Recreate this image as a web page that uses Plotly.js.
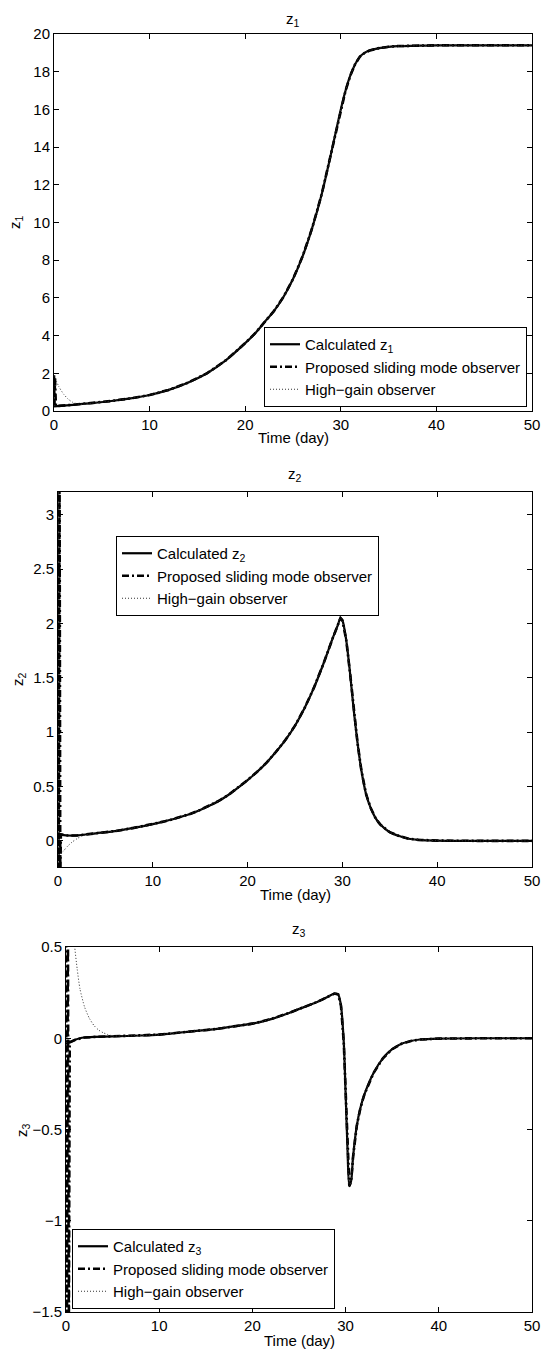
<!DOCTYPE html>
<html>
<head>
<meta charset="utf-8">
<script src="https://cdn.plot.ly/plotly-3.0.1.min.js"></script>
<style>
html,body{margin:0;padding:0;background:#fff;}
#chart{width:542px;height:1352px;}
</style>
</head>
<body>
<div id="chart"></div>
<script>
// ---------- DATA ----------
const xTicks = [0, 10, 20, 30, 40, 50];

// Panel 1 : z1
const t1 = [0, 2, 4, 6, 8, 10, 12, 14, 16, 18, 20, 21, 22, 23, 24, 25, 26, 27, 28, 29, 30, 30.5, 31, 31.5, 32, 32.5, 33, 34, 35, 36, 38, 40, 45, 50];
const z1Calc = [0.25, 0.33, 0.42, 0.53, 0.67, 0.85, 1.12, 1.5, 2.0, 2.7, 3.6, 4.1, 4.7, 5.3, 6.05, 7.0, 8.2, 9.7, 11.5, 13.7, 16.0, 17.0, 17.8, 18.4, 18.8, 19.0, 19.12, 19.25, 19.32, 19.36, 19.38, 19.4, 19.4, 19.4];
const smoT1 = [0, 0.05, 0.1, 0.15, 0.2];
const smoZ1 = [1.9, 0.3, 1.8, 0.3, 0.26];
const hgT1 = [0, 0.5, 1, 1.5, 2, 2.5, 3];
const hgZ1 = [1.9, 1.3, 0.9, 0.62, 0.45, 0.37, 0.35];
const y1Ticks = [0, 2, 4, 6, 8, 10, 12, 14, 16, 18, 20];

// Panel 2 : z2
const t2 = [0, 1, 2, 4, 6, 8, 10, 11, 12, 13, 14, 15, 16, 17, 18, 19, 20, 21, 22, 23, 24, 25, 26, 27, 28, 29, 29.5, 29.8, 30, 30.4, 30.8, 31.2, 31.6, 32, 32.5, 33, 33.5, 34, 35, 36, 37, 38, 40, 45, 50];
const z2Calc = [0.06, 0.05, 0.05, 0.07, 0.09, 0.12, 0.155, 0.175, 0.197, 0.222, 0.25, 0.285, 0.325, 0.37, 0.425, 0.49, 0.56, 0.635, 0.72, 0.82, 0.93, 1.06, 1.22, 1.41, 1.63, 1.87, 1.98, 2.05, 2.03, 1.85, 1.55, 1.2, 0.9, 0.65, 0.43, 0.3, 0.21, 0.15, 0.08, 0.045, 0.02, 0.01, 0.003, 0, 0];
const smoT2 = [0, 0.08, 0.16, 0.24, 0.3];
const smoZ2 = [3.6, -0.4, 3.6, -0.4, 0.06];
const hgT2 = [0.3, 0.6, 1, 1.5, 2, 2.5, 3];
const hgZ2 = [-0.12, -0.09, -0.05, -0.01, 0.02, 0.045, 0.055];
const y2Ticks = [0, 0.5, 1, 1.5, 2, 2.5, 3];

// Panel 3 : z3
const t3 = [0, 0.5, 1, 1.5, 2, 3, 5, 8, 10, 12, 14, 16, 18, 20, 22, 24, 26, 27, 28, 28.8, 29.2, 29.5, 29.8, 30, 30.2, 30.4, 30.6, 30.8, 31.2, 31.6, 32, 33, 34, 35, 36, 37, 38, 40, 45, 50];
const z3Calc = [-0.03, -0.02, -0.008, 0, 0.004, 0.007, 0.01, 0.015, 0.02, 0.03, 0.04, 0.05, 0.065, 0.08, 0.105, 0.14, 0.18, 0.2, 0.225, 0.245, 0.24, 0.18, -0.02, -0.3, -0.6, -0.81, -0.78, -0.65, -0.48, -0.38, -0.31, -0.19, -0.11, -0.06, -0.03, -0.015, -0.007, -0.002, 0, 0];
const smoT3 = [0, 0.1, 0.2, 0.3, 0.4];
const smoZ3 = [0.7, -1.7, 0.7, -1.7, -0.02];
const hgT3 = [0.5, 0.9, 1.2, 1.5, 2, 2.5, 3, 3.5, 4, 4.5, 5];
const hgZ3 = [0.9, 0.52, 0.38, 0.27, 0.17, 0.11, 0.07, 0.045, 0.03, 0.02, 0.013];
const y3Ticks = [-1.5, -1, -0.5, 0, 0.5];

const names = {
  smo: 'Proposed sliding mode observer',
  hg: 'High\u2212gain observer'
};

// ---------- HELPERS ----------
const W = 542, H = 1352;
const fx = p => p / W;
const fy = p => 1 - p / H;
const FONT = 'Liberation Sans, Arial, Helvetica, sans-serif';
const FS = 15;

function tail(tArr, zArr, after) {
  const xs = [], ys = [];
  tArr.forEach((t, i) => { if (t > after) { xs.push(t); ys.push(zArr[i]); } });
  return [xs, ys];
}

function panelTraces(idx, tC, zC, sT, sZ, hT, hZ, calcName) {
  const ax = idx === 1 ? '' : String(idx);
  const leg = idx === 1 ? 'legend' : 'legend' + idx;
  const [sTx, sTy] = tail(tC, zC, sT[sT.length - 1]);
  const [hTx, hTy] = tail(tC, zC, hT[hT.length - 1]);
  return [
    {x: tC, y: zC, name: calcName, type: 'scatter', mode: 'lines',
     line: {color: '#000', width: 2.2, shape: 'spline', smoothing: 0.8},
     xaxis: 'x' + ax, yaxis: 'y' + ax, legend: leg},
    {x: sT.concat(sTx), y: sZ.concat(sTy), name: names.smo, type: 'scatter', mode: 'lines',
     line: {color: '#000', width: 2.6, dash: '7px,3px,2px,3px'},
     xaxis: 'x' + ax, yaxis: 'y' + ax, legend: leg},
    {x: hT.concat(hTx), y: hZ.concat(hTy), name: names.hg, type: 'scatter', mode: 'lines',
     line: {color: '#333', width: 1, dash: '1px,2px', shape: 'spline', smoothing: 0.6},
     xaxis: 'x' + ax, yaxis: 'y' + ax, legend: leg}
  ];
}

const traces = []
  .concat(panelTraces(1, t1, z1Calc, smoT1, smoZ1, hgT1, hgZ1, 'Calculated z<sub>1</sub>'))
  .concat(panelTraces(2, t2, z2Calc, smoT2, smoZ2, hgT2, hgZ2, 'Calculated z<sub>2</sub>'))
  .concat(panelTraces(3, t3, z3Calc, smoT3, smoZ3, hgT3, hgZ3, 'Calculated z<sub>3</sub>'));

function xAxis(anchor, left) {
  return {
    domain: [fx(left), fx(532)], anchor: anchor, range: [0, 50],
    tickvals: xTicks, ticks: 'inside', ticklen: 5, tickcolor: '#000', tickwidth: 1,
    showline: true, linecolor: '#000', linewidth: 1, mirror: 'ticks',
    showgrid: false, zeroline: false, automargin: false,
    tickfont: {family: FONT, size: FS, color: '#000'}
  };
}
function yAxis(anchor, top, bottom, range, tv) {
  return {
    domain: [fy(bottom), fy(top)], anchor: anchor, range: range,
    tickvals: tv, ticks: 'inside', ticklen: 5, tickcolor: '#000', tickwidth: 1,
    showline: true, linecolor: '#000', linewidth: 1, mirror: 'ticks',
    showgrid: false, zeroline: false, automargin: false,
    tickfont: {family: FONT, size: FS, color: '#000'}
  };
}

function legendBox(x, y, xa, ya) {
  return {
    x: x, y: y, xanchor: xa, yanchor: ya, xref: 'paper', yref: 'paper',
    bgcolor: '#fff', bordercolor: '#000', borderwidth: 1,
    font: {family: FONT, size: FS, color: '#000'},
    itemwidth: 30, tracegroupgap: 0, traceorder: 'normal'
  };
}

function txt(text, x, y, angle) {
  return {text: text, x: fx(x), y: fy(y), xref: 'paper', yref: 'paper',
    showarrow: false, xanchor: 'center', yanchor: 'middle', textangle: angle || 0,
    font: {family: FONT, size: FS, color: '#000'}};
}

const layout = {
  width: W, height: H,
  margin: {l: 0, r: 0, t: 0, b: 0},
  paper_bgcolor: '#fff', plot_bgcolor: '#fff',
  showlegend: true,
  xaxis: xAxis('y', 54),
  yaxis: yAxis('x', 34, 411, [0, 20], y1Ticks),
  xaxis2: xAxis('y2', 58),
  yaxis2: yAxis('x2', 492, 867, [-0.24, 3.21], y2Ticks),
  xaxis3: xAxis('y3', 66),
  yaxis3: yAxis('x3', 947, 1312, [-1.5, 0.5], y3Ticks),
  legend: legendBox(fx(527), fy(407), 'right', 'bottom'),
  legend2: legendBox(fx(116), fy(536), 'left', 'top'),
  legend3: legendBox(fx(72), fy(1309), 'left', 'bottom'),
  annotations: [
    txt('z<sub>1</sub>', 293, 19),
    txt('z<sub>2</sub>', 295, 474),
    txt('z<sub>3</sub>', 299, 929),
    txt('Time (day)', 293, 437),
    txt('Time (day)', 295, 894),
    txt('Time (day)', 299, 1340),
    txt('z<sub>1</sub>', 15, 222, -90),
    txt('z<sub>2</sub>', 18, 679, -90),
    txt('z<sub>3</sub>', 22, 1130, -90)
  ]
};

Plotly.newPlot('chart', traces, layout, {staticPlot: true, displayModeBar: false});
</script>
</body>
</html>
